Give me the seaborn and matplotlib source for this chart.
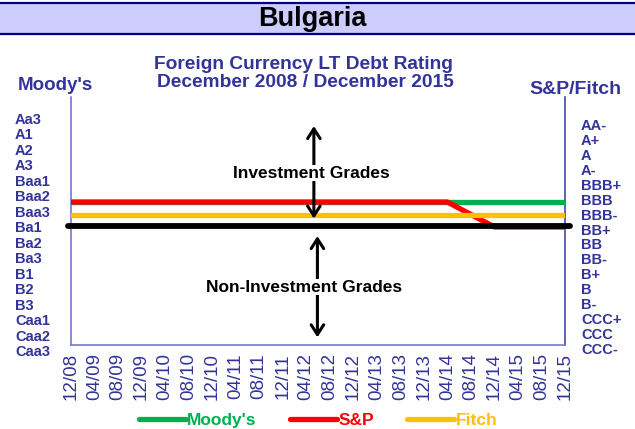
import matplotlib
matplotlib.use("Agg")
import matplotlib.pyplot as plt
from matplotlib.patches import Rectangle
from matplotlib.lines import Line2D
import seaborn as sns
import pandas as pd

# ---------------- data ----------------
moodys_scale = ["Aa3", "A1", "A2", "A3", "Baa1", "Baa2", "Baa3", "Ba1", "Ba2", "Ba3",
                "B1", "B2", "B3", "Caa1", "Caa2", "Caa3"]
sp_scale = ["AA-", "A+", "A", "A-", "BBB+", "BBB", "BBB-", "BB+", "BB", "BB-",
            "B+", "B", "B-", "CCC+", "CCC", "CCC-"]
tick_labels = ["12/08", "04/09", "08/09", "12/09", "04/10", "08/10", "12/10", "04/11",
               "08/11", "12/11", "04/12", "08/12", "12/12", "04/13", "08/13", "12/13",
               "04/14", "08/14", "12/14", "04/15", "08/15", "12/15"]

moodys_dates = ["12/08", "12/15"]
moodys_ratings = ["Baa2", "Baa2"]
sp_dates = ["12/08", "04/14", "12/14", "12/15"]
sp_ratings = ["BBB", "BBB", "BB+", "BB+"]
fitch_dates = ["12/08", "12/15"]
fitch_ratings = ["BBB-", "BBB-"]
threshold = "BB+"

agencies = ["Moody's", "S&P", "Fitch"]
colors = {"Moody's": "#00B050", "S&P": "#FF0000", "Fitch": "#FFC000"}
navy = "#333399"


def months(d):
    m, y = d.split("/")
    return (int(y) - 8) * 12 + int(m) - 12


def score_sp(r):
    return len(sp_scale) - sp_scale.index(r)


def score_m(r):
    return len(moodys_scale) - moodys_scale.index(r)


rows = []
for d, r in zip(moodys_dates, moodys_ratings):
    rows.append(("Moody's", months(d), score_m(r)))
for d, r in zip(sp_dates, sp_ratings):
    rows.append(("S&P", months(d), score_sp(r)))
for d, r in zip(fitch_dates, fitch_ratings):
    rows.append(("Fitch", months(d), score_sp(r)))
df = pd.DataFrame(rows, columns=["agency", "month", "score"])

# ---------------- figure ----------------
sns.set_style("white")
plt.rcParams["font.family"] = ["Liberation Sans", "DejaVu Sans"]

W, H = 635, 429
fig = plt.figure(figsize=(W / 100, H / 100), dpi=100)
ax = fig.add_axes([71 / W, 1 - 345 / H, (565 - 71) / W, (345 - 97) / H])

sns.lineplot(data=df, x="month", y="score", hue="agency", hue_order=agencies,
             palette=colors, lw=3.8, solid_capstyle="round", ax=ax,
             estimator=None, sort=False, zorder=3)

thr = score_sp(threshold) + 0.1
ax.axhline(thr, xmin=-0.006, xmax=1.01, color="black", lw=4.2, clip_on=False, zorder=4)

ax.set_xlim(0, 84)
ax.set_ylim(-0.44, 19.4)
ax.set_xlabel("")
ax.set_ylabel("")
ax.set_yticks([])
ax.set_xticks([months(t) for t in tick_labels])
ax.set_xticklabels(tick_labels, rotation=90, color=navy, fontsize=13.5)
ax.tick_params(axis="x", direction="out", length=4, width=1, color="#7777CC", pad=2)

for s in ["left", "bottom"]:
    ax.spines[s].set_color("#7777CC")
    ax.spines[s].set_linewidth(1.2)
ax.spines["right"].set_color("#4444AA")
ax.spines["right"].set_linewidth(1.2)
ax.spines["top"].set_visible(False)

# arrows and grade labels
arrow_style = "<->,head_length=0.7,head_width=0.45"
ax.annotate("", xy=(41.3, 17.3), xytext=(41.3, 9.45),
            arrowprops=dict(arrowstyle=arrow_style, lw=2.2, color="black"),
            zorder=5)
ax.annotate("", xy=(41.9, 8.5), xytext=(41.9, -0.05),
            arrowprops=dict(arrowstyle=arrow_style, lw=2.2, color="black"),
            zorder=5, annotation_clip=False)
ax.text(40.9, 13.3, "Investment Grades", ha="center", va="center", fontsize=12.5,
        fontweight="bold", color="black", zorder=6,
        bbox=dict(facecolor="white", edgecolor="none", pad=0.5))
ax.text(39.6, 4.2, "Non-Investment Grades", ha="center", va="center", fontsize=12.5,
        fontweight="bold", color="black", zorder=6,
        bbox=dict(facecolor="white", edgecolor="none", pad=0.5))

# rating labels on both sides
n = len(moodys_scale)
for i, lab in enumerate(moodys_scale):
    ypx = 120 + i * (352 - 120) / (n - 1)
    fig.text(15 / W, 1 - ypx / H, lab, ha="left", va="center", fontsize=10.5,
             fontweight="bold", color=navy)
for i, lab in enumerate(sp_scale):
    ypx = 126 + i * (350 - 126) / (n - 1)
    fig.text(581 / W, 1 - ypx / H, lab, ha="left", va="center", fontsize=10.5,
             fontweight="bold", color=navy)

# header band
fig.patches.append(Rectangle((0, 1 - 34 / H), 1, 31 / H, transform=fig.transFigure,
                             facecolor="#CCCCFF", edgecolor="none", zorder=0))
for ypx in (3, 34):
    fig.add_artist(Line2D([0, 1], [1 - ypx / H, 1 - ypx / H], transform=fig.transFigure,
                          color="#000080", lw=1.6))
fig.text(312 / W, 1 - 19 / H, "Bulgaria", ha="center", va="center", fontsize=19.5,
         fontweight="bold", color="black")

fig.text(303 / W, 1 - 69 / H, "Foreign Currency LT Debt Rating", ha="center",
         va="baseline", fontsize=13.8, fontweight="bold", color=navy)
fig.text(305 / W, 1 - 87 / H, "December 2008 / December 2015", ha="center",
         va="baseline", fontsize=13.8, fontweight="bold", color=navy)
fig.text(55 / W, 1 - 86 / H, "Moody's", ha="center", va="center", fontsize=13.5,
         fontweight="bold", color=navy)
fig.text(575 / W, 1 - 89 / H, "S&P/Fitch", ha="center", va="center", fontsize=14,
         fontweight="bold", color=navy)

# legend
handles, labels = ax.get_legend_handles_labels()
ax.get_legend().remove()
leg = fig.legend(handles, labels, loc="center", bbox_to_anchor=(318 / W, 1 - 420 / H), ncol=3,
                 frameon=False, handlelength=2.7, handletextpad=0.1, columnspacing=1.9,
                 prop=dict(weight="bold", size=12.5))
for t, a in zip(leg.get_texts(), labels):
    t.set_color(colors[a])
for l in leg.get_lines():
    l.set_linewidth(3.8)
    l.set_solid_capstyle("round")

fig.savefig("out.png", dpi=100)
